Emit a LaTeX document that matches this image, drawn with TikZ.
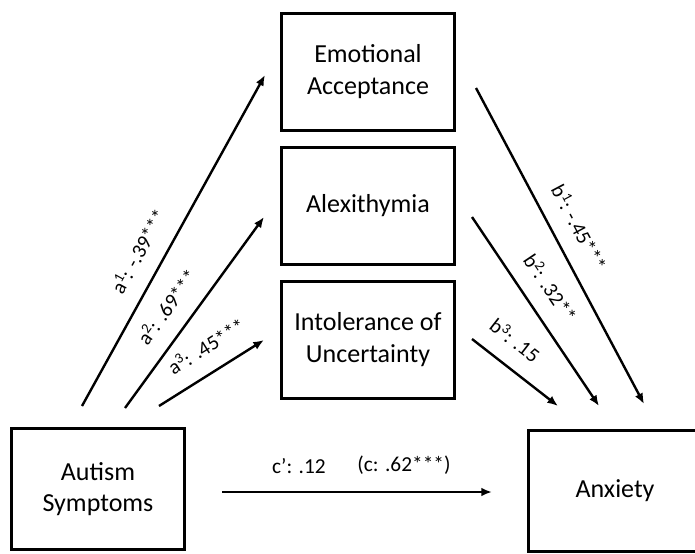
\documentclass[tikz,border=0pt]{standalone}
\usepackage{fontspec}
\setmainfont{Carlito}
\usetikzlibrary{arrows.meta,positioning}

\tikzset{
  var/.style={draw, line width=2.25pt, minimum width=129.75pt, minimum height=87.75pt,
    align=center, font=\fontsize{19.5}{23.5}\selectfont},
  eff/.style={-{Latex[length=8pt,width=6.5pt]}, line width=1.8pt},
  lab/.style={font=\fontsize{16}{19}\selectfont},
  coef/.style={lab, font=\fontsize{15.5}{18}\selectfont, sloped, above=9pt},
}

\begin{document}
\begin{tikzpicture}[x=0.75pt, y=-0.75pt, node distance=10.5pt]
    \useasboundingbox (0,0) rectangle (695,553);
    % mediators
    \node[var] (emo) at (368,71.5) {Emotional\\Acceptance};
    \node[var, below=of emo] (alex) {Alexithymia};
    \node[var, below=of alex] (unc) {Intolerance of\\Uncertainty};
    % predictor and outcome
    \node[var, minimum height=90.75pt] (aut) at (98,489) {Autism\\Symptoms};
    \node[var, minimum height=90.75pt] (anx) at (615,491) {Anxiety};
    % path ends
    \coordinate (a1s) at (82,406);  \coordinate (a1e) at (265,75);
    \coordinate (a2s) at (125,408); \coordinate (a2e) at (264,217);
    \coordinate (a3s) at (159,406); \coordinate (a3e) at (264,340);
    \coordinate (b1s) at (476,88);  \coordinate (b1e) at (644,404);
    \coordinate (b2s) at (472,217); \coordinate (b2e) at (599,406);
    \coordinate (b3s) at (472,339); \coordinate (b3e) at (558,406);
    \coordinate (cs) at (222,492);  \coordinate (ce) at (492,492);
    % a paths
    \draw[eff] (a1s) -- node[coef, pos=.43] {a\textsuperscript{1}: -.39***} (a1e);
    \draw[eff] (a2s) -- node[coef, pos=.45] {a\textsuperscript{2}: .69***} (a2e);
    \draw[eff] (a3s) -- node[coef, pos=.58] {a\textsuperscript{3}: .45***} (a3e);
    % b paths
    \draw[eff] (b1s) -- node[coef, pos=.48] {b\textsuperscript{1}: -.45***} (b1e);
    \draw[eff] (b2s) -- node[coef, pos=.45] {b\textsuperscript{2}: .32**} (b2e);
    \draw[eff] (b3s) -- node[coef, pos=.32] {b\textsuperscript{3}: .15} (b3e);
    % direct path
    \draw[eff] (cs) -- node[lab, pos=.285, anchor=base, yshift=14pt] {c': .12}
        node[lab, pos=.674, anchor=base, yshift=15.5pt] {(c: .62***)} (ce);
\end{tikzpicture}
\end{document}
